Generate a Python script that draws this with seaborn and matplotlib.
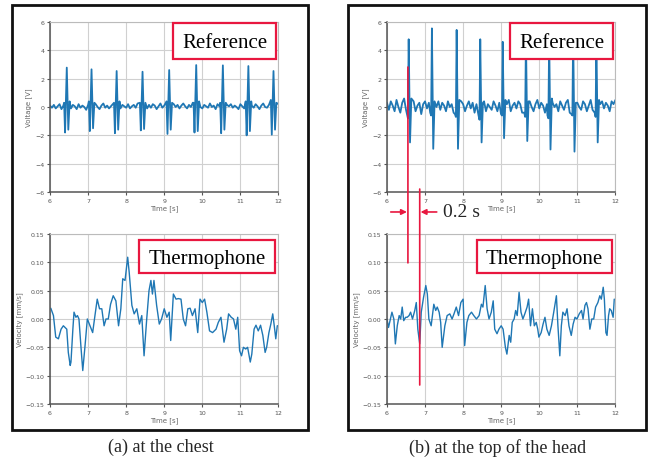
import numpy as np
import pandas as pd
import matplotlib.pyplot as plt
import seaborn as sns
from matplotlib.patches import Rectangle, ConnectionPatch, FancyArrowPatch

# ---- data ----
# baseline of the reference (ECG) traces, sampled every 0.05 s from 6 to 12 s
ref_a_base = [0.10, -0.05, 0.15, -0.10, 0.05, 0.20, -0.15, 0.10, 0.30, 0.05, 0.00, -0.10, 0.15, 0.05, -0.15, 0.20, -0.05, 0.10, 0.00, -0.20,
              0.15, 0.30, 0.05, -0.10, 0.20, 0.00, -0.15, 0.10, 0.25, -0.05, 0.10, -0.10, 0.05, 0.20, 0.00, 0.30, 0.10, -0.10, 0.15, 0.05,
              -0.05, 0.20, -0.10, 0.05, 0.15, -0.05, 0.25, 0.00, 0.10, 0.30, 0.05, -0.10, 0.15, -0.05, 0.20, 0.10, -0.15, 0.05, 0.25, -0.05,
              0.10, -0.10, 0.35, 0.05, -0.05, 0.20, 0.00, 0.15, -0.10, 0.10, 0.25, 0.05, -0.10, 0.15, 0.00, 0.30, -0.05, 0.10, 0.20, 0.00,
              -0.10, 0.15, 0.05, -0.05, 0.25, 0.00, 0.10, -0.15, 0.20, 0.05, 0.30, 0.00, -0.10, 0.15, 0.05, 0.20, -0.05, 0.10, 0.00, -0.15,
              0.20, 0.05, -0.10, 0.15, 0.30, 0.00, 0.10, -0.05, 0.20, 0.05, -0.15, 0.10, 0.25, 0.00, -0.05, 0.15, 0.05, 0.35, -0.10, 0.10,
              0.20]
ref_b_base = [0.30, -0.20, 0.40, 0.10, -0.30, 0.50, 0.00, -0.40, 0.30, 0.60, -0.20, 0.20, 0.50, -0.10, 0.40, -0.30, 0.10, 0.30, -0.50, 0.20,
              0.40, -0.10, 0.30, 0.50, -0.40, 0.20, 0.00, 0.40, -0.20, 0.30, 0.10, -0.30, 0.40, 0.00, 0.20, -0.40, 0.30, 0.10, -0.20, 0.40,
              0.20, -0.30, 0.10, 0.40, -0.10, 0.30, -0.40, 0.20, 0.50, -0.20, 0.10, 0.40, -0.30, 0.20, 0.00, -0.20, 0.40, 0.10, -0.30, 0.30,
              0.00, 0.40, -0.20, 0.20, 0.50, -0.30, 0.10, 0.30, -0.10, 0.40, 0.20, -0.40, 0.10, 0.30, -0.20, 0.40, 0.00, -0.30, 0.20, 0.50,
              -0.10, 0.30, 0.10, -0.40, 0.20, 0.40, -0.20, 0.30, 0.00, 0.20, -0.30, 0.40, 0.10, -0.20, 0.30, 0.50, -0.40, 0.20, 0.10, -0.30,
              0.30, 0.00, -0.20, 0.40, 0.20, -0.30, 0.10, 0.50, -0.20, 0.30, 0.00, -0.40, 0.20, 0.40, -0.10, 0.30, 0.10, -0.30, 0.40, 0.20,
              0.50]

# heart beats: time of R peak and the values around it
beat_a_t = [6.44, 7.09, 7.75, 8.43, 9.13, 9.84, 10.54, 11.21, 11.87]
beat_a_pre = [0.3, 0.4, 0.3, 0.3, 0.4, 0.3, 0.3, 0.4, 0.5]
beat_a_q = [-1.80, -1.70, -1.85, -1.65, -1.90, -1.80, -1.85, -2.00, -1.95]
beat_a_r = [2.78, 2.66, 2.54, 2.49, 2.61, 2.96, 2.94, 2.89, 2.54]
beat_a_s = [-1.60, -1.50, -1.60, -1.55, -1.60, -1.70, -1.60, -1.70, -1.60]
beat_a_post = [0.4, 0.3, 0.4, 0.3, 0.3, 0.4, 0.3, 0.4, 0.3]
beat_a_offs = [-0.07, -0.045, 0.0, 0.04, 0.075]

beat_b_t = [6.57, 7.18, 7.83, 8.45, 9.04, 9.65, 10.26, 10.89, 11.50]
beat_b_pre = [-0.5, -0.4, -0.5, -0.6, -0.5, -0.4, -0.6, -0.5, -0.4]
beat_b_q = [-0.8, -0.6, -0.7, -0.9, -0.6, -0.7, -0.8, -0.6, -0.7]
beat_b_r = [4.78, 5.55, 5.44, 4.78, 4.60, 5.00, 4.90, 5.20, 4.80]
beat_b_s = [-2.50, -2.95, -2.95, -2.50, -2.20, -2.40, -3.00, -3.15, -2.50]
beat_b_post = [0.6, 0.4, 0.5, 0.3, 0.5, 0.4, 0.6, 0.3, 0.5]
beat_b_offs = [-0.045, -0.02, 0.0, 0.035, 0.07]

# thermophone velocity traces
vel_a_t = [6.02, 6.09, 6.15, 6.22, 6.29, 6.35, 6.44, 6.48, 6.53, 6.55, 6.60, 6.63, 6.68, 6.72, 6.76, 6.81, 6.86, 6.92, 6.98,
           7.05, 7.12, 7.18, 7.24, 7.30, 7.36, 7.42, 7.47, 7.53, 7.59, 7.66, 7.73, 7.80, 7.86, 7.91, 7.97, 8.04, 8.08, 8.15,
           8.21, 8.28, 8.35, 8.41, 8.47, 8.54, 8.60, 8.65, 8.69, 8.73, 8.80, 8.87, 8.93, 9.00, 9.07, 9.13, 9.17, 9.24, 9.31,
           9.37, 9.44, 9.50, 9.56, 9.62, 9.68, 9.74, 9.81, 9.88, 9.94, 10.00, 10.06, 10.12, 10.19, 10.27, 10.36, 10.42, 10.49,
           10.57, 10.64, 10.69, 10.76, 10.82, 10.88, 10.93, 10.98, 11.03, 11.08, 11.14, 11.19, 11.26, 11.30, 11.36, 11.41,
           11.47, 11.53, 11.59, 11.65, 11.69, 11.75, 11.80, 11.85, 11.89, 11.93, 11.97, 12.00]
vel_a = [0.019, 0.006, -0.032, -0.035, -0.018, -0.012, -0.018, -0.059, -0.082, -0.076, -0.018, 0.012, 0.003, 0.006, 0.000,
         -0.047, -0.091, -0.047, 0.000, -0.012, -0.024, 0.006, 0.035, 0.018, 0.018, -0.012, 0.000, 0.000, 0.026, 0.041,
         0.032, -0.012, 0.018, 0.071, 0.068, 0.109, 0.082, 0.024, 0.009, 0.018, -0.009, 0.006, -0.065, 0.000, 0.050, 0.068,
         0.044, 0.068, 0.024, -0.009, 0.000, 0.018, 0.003, 0.012, -0.038, 0.044, 0.035, 0.036, 0.035, 0.000, -0.012, 0.018,
         0.019, 0.006, 0.018, -0.024, 0.035, 0.029, 0.035, 0.012, -0.021, -0.024, -0.018, -0.006, 0.003, -0.041, -0.018,
         0.009, 0.003, 0.000, -0.018, 0.003, -0.056, -0.065, -0.050, -0.053, -0.050, -0.076, -0.062, -0.018, -0.011, -0.021,
         -0.011, -0.029, -0.059, -0.050, -0.024, -0.009, 0.009, -0.012, -0.035, -0.012, -0.012]

vel_b_t = [6.00, 6.04, 6.09, 6.13, 6.18, 6.22, 6.27, 6.32, 6.36, 6.40, 6.44, 6.49, 6.53, 6.58, 6.62, 6.67, 6.73, 6.77, 6.81,
           6.86, 6.90, 6.96, 7.02, 7.06, 7.10, 7.16, 7.23, 7.28, 7.32, 7.37, 7.41, 7.45, 7.52, 7.58, 7.65, 7.71, 7.76, 7.82,
           7.88, 7.94, 8.00, 8.04, 8.10, 8.15, 8.22, 8.28, 8.35, 8.42, 8.48, 8.52, 8.58, 8.63, 8.68, 8.74, 8.79, 8.83, 8.89,
           8.94, 9.00, 9.05, 9.11, 9.15, 9.21, 9.25, 9.29, 9.34, 9.38, 9.42, 9.47, 9.52, 9.57, 9.62, 9.68, 9.72, 9.77, 9.82,
           9.87, 9.92, 9.96, 9.99, 10.05, 10.10, 10.15, 10.20, 10.26, 10.32, 10.38, 10.45, 10.49, 10.54, 10.58, 10.62, 10.68,
           10.73, 10.78, 10.84, 10.89, 10.94, 10.99, 11.05, 11.11, 11.15, 11.20, 11.24, 11.28, 11.33, 11.38, 11.43, 11.48,
           11.54, 11.59, 11.63, 11.68, 11.71, 11.75, 11.78, 11.82, 11.85, 11.89, 11.94, 11.97]
vel_b = [0.000, -0.015, 0.000, 0.012, 0.000, -0.044, -0.012, 0.006, 0.000, 0.021, -0.003, 0.003, 0.003, 0.006, 0.012,
         0.000, 0.015, 0.029, -0.018, -0.044, 0.012, 0.038, 0.059, 0.044, 0.000, -0.012, 0.026, 0.015, 0.021, 0.012, -0.006,
         -0.050, -0.012, 0.006, 0.009, 0.000, 0.009, 0.021, 0.006, 0.029, 0.035, -0.047, -0.006, 0.006, 0.012, 0.006, 0.000,
         0.006, 0.026, 0.021, 0.059, 0.018, 0.000, 0.012, 0.032, -0.018, -0.026, -0.018, -0.012, -0.018, -0.050, -0.062,
         -0.029, -0.041, -0.006, 0.000, 0.015, 0.006, 0.047, 0.012, 0.000, 0.009, 0.021, 0.035, -0.012, 0.018, -0.012, -0.006,
         -0.018, -0.032, -0.024, -0.009, 0.003, -0.018, -0.029, -0.012, 0.012, 0.041, -0.012, -0.065, -0.012, 0.012, 0.006,
         0.018, -0.012, -0.029, -0.009, 0.003, 0.000, 0.009, 0.015, 0.000, 0.024, 0.029, 0.018, -0.018, 0.000, 0.000, 0.021,
         0.029, 0.041, 0.035, 0.056, 0.035, -0.024, -0.029, 0.006, 0.018, 0.015, 0.003, 0.035]

captions = ['(a) at the chest', '(b) at the top of the head']
red = '#e8173f'
blue = '#1f77b4'


def ecg_frame(base, bt, pre, q, r, s, post, offs):
    t = np.round(np.arange(len(base)) * 0.05 + 6.0, 3)
    df = pd.DataFrame({'t': t, 'v': base})
    for b in bt:
        df = df[(df.t < b + offs[0] - 0.01) | (df.t > b + offs[-1] + 0.01)]
    rows = []
    for i, b in enumerate(bt):
        for o, val in zip(offs, [pre[i], q[i], r[i], s[i], post[i]]):
            rows.append((b + o, val))
    df = pd.concat([df, pd.DataFrame(rows, columns=['t', 'v'])])
    return df.sort_values('t')


ref_a = ecg_frame(ref_a_base, beat_a_t, beat_a_pre, beat_a_q, beat_a_r, beat_a_s, beat_a_post, beat_a_offs)
ref_b = ecg_frame(ref_b_base, beat_b_t, beat_b_pre, beat_b_q, beat_b_r, beat_b_s, beat_b_post, beat_b_offs)
th_a = pd.DataFrame({'t': vel_a_t, 'v': vel_a})
th_b = pd.DataFrame({'t': vel_b_t, 'v': vel_b})

sns.set_style('whitegrid')
plt.rcParams['font.family'] = ['DejaVu Sans']

fig = plt.figure(figsize=(6.48, 4.60), dpi=100)
serif = ['Liberation Serif', 'DejaVu Serif']


def style_axes(ax, ylabel, yticks, ylim):
    ax.set_xlim(6, 12)
    ax.set_ylim(*ylim)
    ax.set_xticks([6, 7, 8, 9, 10, 11, 12])
    ax.set_yticks(yticks)
    ax.grid(True, color='#d0d0d0', lw=0.8)
    ax.tick_params(labelsize=4.5, colors='#555555', length=2.5, width=0.8, pad=1.5, left=True, bottom=True)
    for side in ['left', 'bottom']:
        ax.spines[side].set_color('#555555')
        ax.spines[side].set_linewidth(1.1)
    for side in ['top', 'right']:
        ax.spines[side].set_color('#bbbbbb')
        ax.spines[side].set_linewidth(0.8)
    ax.set_xlabel('Time [s]', fontsize=5, color='#666666', labelpad=1.5)
    ax.set_ylabel(ylabel, fontsize=5, color='#666666', labelpad=2)


def label_box(ax, text, x0, x1, y0, y1):
    ax.add_patch(Rectangle((x0, y0), x1 - x0, y1 - y0, transform=ax.transAxes, facecolor='white',
                           edgecolor=red, lw=1.6, zorder=5, clip_on=False))
    ax.text((x0 + x1) / 2, (y0 + y1) / 2 - 0.01, text, transform=ax.transAxes, ha='center', va='center',
            fontsize=15, family=serif, color='black', zorder=6)


panels = [
    (0.0772, ref_a, th_a, 0.390),
    (0.5972, ref_b, th_b, 0.393),
]
axes = []
for left, ref, th, tx0 in panels:
    ax1 = fig.add_axes([left, 0.5804, 0.3525, 0.3696])
    ax2 = fig.add_axes([left, 0.1196, 0.3525, 0.3696])
    sns.lineplot(data=ref, x='t', y='v', ax=ax1, color=blue, lw=1.3, estimator=None, sort=False)
    sns.lineplot(data=th, x='t', y='v', ax=ax2, color=blue, lw=1.0, estimator=None, sort=False)
    style_axes(ax1, 'Voltage [V]', [-6, -4, -2, 0, 2, 4, 6], (-6, 6))
    style_axes(ax2, 'Velocity [mm/s]', [-0.15, -0.10, -0.05, 0.00, 0.05, 0.10, 0.15], (-0.15, 0.15))
    label_box(ax1, 'Reference', 0.539, 0.990, 0.782, 0.994)
    label_box(ax2, 'Thermophone', tx0, 0.987, 0.771, 0.965)
    axes.append((ax1, ax2))

# panel frames and captions
for x0, w, cap, cx in [(0.0185, 0.4568, captions[0], 0.248), (0.537, 0.4599, captions[1], 0.768)]:
    fig.add_artist(Rectangle((x0, 0.063), w, 0.9239, transform=fig.transFigure, fill=False,
                             edgecolor='#111111', lw=2.0))
    fig.text(cx, 0.027, cap, ha='center', va='center', fontsize=13, family=serif)

# 0.2 s delay annotation in panel (b)
ax1, ax2 = axes[1]
for x, ytop, ybot in [(6.55, 2.82, 0.099), (6.86, -5.79, -0.1165)]:
    fig.add_artist(ConnectionPatch(xyA=(x, ytop), coordsA=ax1.transData, xyB=(x, ybot), coordsB=ax2.transData,
                                   color=red, lw=1.2, zorder=10))
fig.add_artist(FancyArrowPatch((0.603, 0.537), (0.628, 0.537), transform=fig.transFigure,
                               arrowstyle='-|>', mutation_scale=8, color=red, lw=1.2, shrinkA=0, shrinkB=0))
fig.add_artist(FancyArrowPatch((0.674, 0.537), (0.649, 0.537), transform=fig.transFigure,
                               arrowstyle='-|>', mutation_scale=8, color=red, lw=1.2, shrinkA=0, shrinkB=0))
fig.text(0.684, 0.537, '0.2 s', ha='left', va='center', fontsize=14, family=serif)

fig.savefig('out.png', dpi=100)
